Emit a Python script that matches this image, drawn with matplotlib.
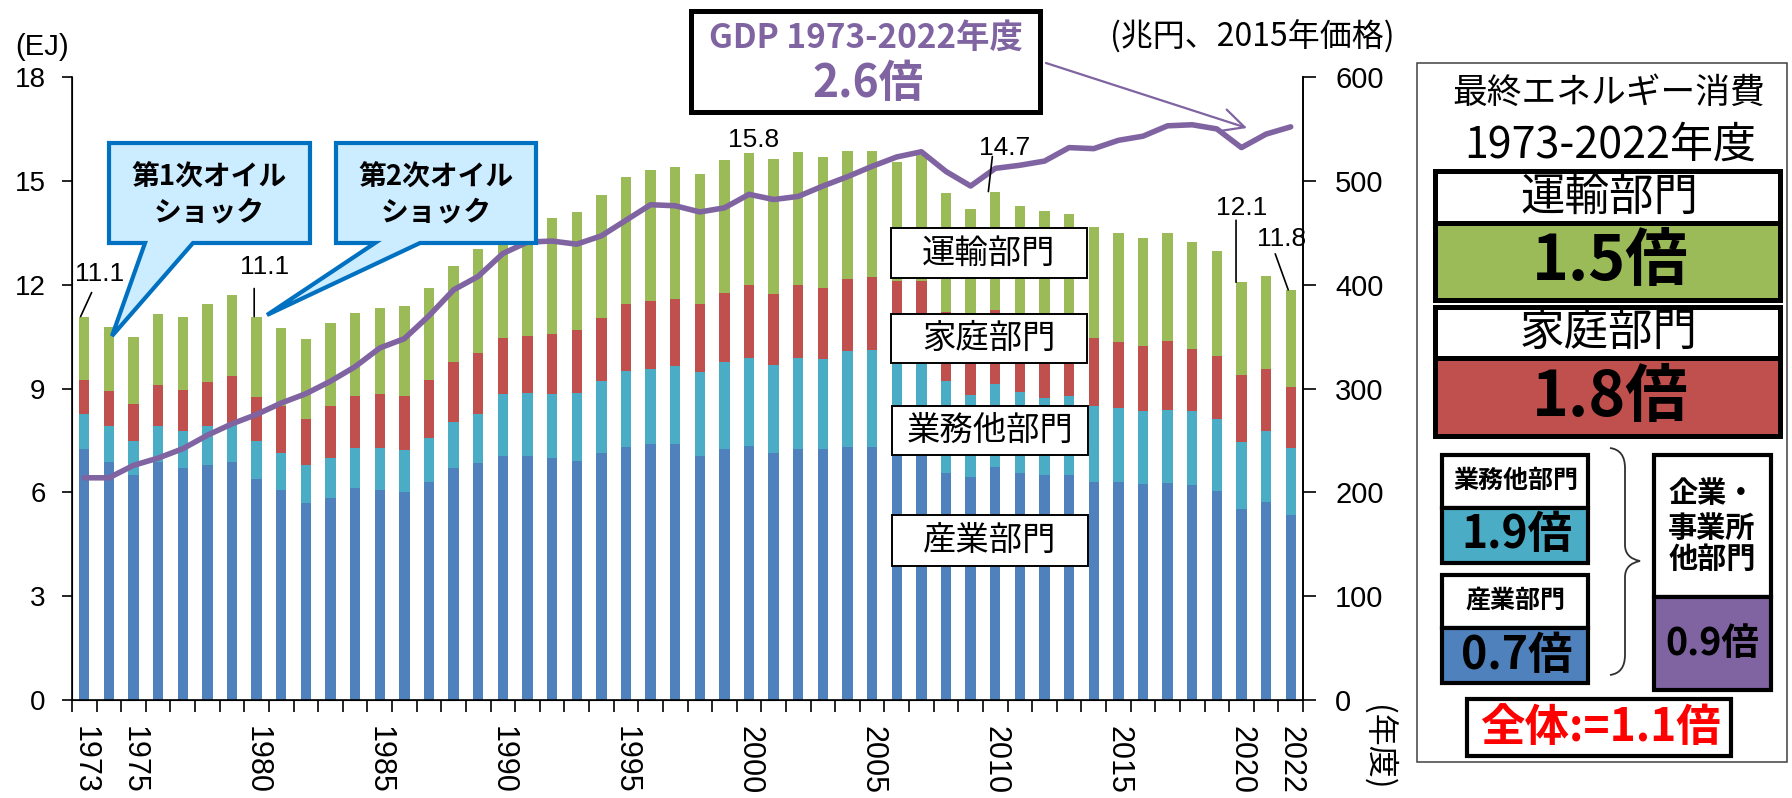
import matplotlib
matplotlib.use('Agg')
import matplotlib.pyplot as plt
import numpy as np
from matplotlib.patches import Rectangle, Polygon, PathPatch
from matplotlib.path import Path

# ---------------- data ----------------
years = list(range(1973, 2023))
industry = [7.25, 6.89, 6.49, 6.89, 6.70, 6.79, 6.89, 6.39, 6.07, 5.68,
            5.83, 6.13, 6.08, 6.02, 6.29, 6.70, 6.86, 7.06, 7.06, 7.00,
            6.91, 7.15, 7.30, 7.40, 7.40, 7.05, 7.26, 7.35, 7.15, 7.26,
            7.26, 7.30, 7.30, 7.25, 7.15, 6.55, 6.45, 6.74, 6.55, 6.50,
            6.50, 6.29, 6.30, 6.25, 6.26, 6.21, 6.05, 5.51, 5.71, 5.35]
commercial = [1.02, 1.03, 0.98, 1.03, 1.06, 1.13, 1.11, 1.10, 1.07, 1.10,
              1.16, 1.14, 1.21, 1.20, 1.27, 1.34, 1.40, 1.77, 1.82, 1.84,
              1.97, 2.06, 2.20, 2.15, 2.24, 2.42, 2.50, 2.54, 2.53, 2.61,
              2.60, 2.77, 2.82, 2.70, 2.70, 2.68, 2.37, 2.39, 2.36, 2.22,
              2.27, 2.21, 2.15, 2.09, 2.13, 2.13, 2.08, 1.95, 2.05, 1.92]
residential = [0.98, 1.01, 1.07, 1.17, 1.19, 1.26, 1.35, 1.25, 1.34, 1.33,
               1.49, 1.51, 1.54, 1.57, 1.68, 1.72, 1.76, 1.62, 1.65, 1.74,
               1.80, 1.82, 1.93, 1.97, 1.95, 1.96, 1.99, 2.09, 2.05, 2.11,
               2.04, 2.08, 2.11, 2.15, 2.25, 1.99, 2.13, 2.14, 2.09, 2.18,
               2.08, 1.97, 1.89, 1.88, 1.98, 1.80, 1.80, 1.93, 1.80, 1.78]
transport = [1.83, 1.84, 1.96, 2.06, 2.13, 2.26, 2.35, 2.34, 2.28, 2.31,
             2.41, 2.40, 2.49, 2.58, 2.65, 2.79, 3.00, 3.05, 3.15, 3.34,
             3.43, 3.57, 3.67, 3.78, 3.81, 3.78, 3.85, 3.83, 3.90, 3.84,
             3.80, 3.72, 3.64, 3.45, 3.65, 3.44, 3.25, 3.42, 3.28, 3.23,
             3.20, 3.19, 3.16, 3.12, 3.11, 3.08, 3.04, 2.68, 2.70, 2.80]
gdp = [214, 214, 226, 233, 242, 255, 266, 275, 286, 295,
       307, 321, 339, 348, 370, 395, 408, 430, 441, 442,
       439, 447, 462, 477, 476, 470, 474, 487, 482, 485,
       495, 504, 514, 523, 528, 509, 495, 512, 515, 519,
       532, 531, 539, 543, 553, 554, 550, 532, 545, 552]

tick_years = [1973, 1975, 1980, 1985, 1990, 1995, 2000, 2005, 2010, 2015, 2020, 2022]
left_ticks = [0, 3, 6, 9, 12, 15, 18]
right_ticks = [0, 100, 200, 300, 400, 500, 600]
value_labels = ['11.1', '11.1', '15.8', '14.7', '12.1', '11.8']
value_label_years = [1973, 1980, 2000, 2010, 2020, 2022]

# ---------------- style ----------------
C_IND = '#4F81BD'
C_COM = '#4BACC6'
C_RES = '#C0504D'
C_TRA = '#9BBB59'
C_GDP = '#8064A2'
C_CALL_FILL = '#CCECFF'
C_CALL_EDGE = '#0070C0'
JP = ['Noto Sans CJK JP', 'DejaVu Sans']
NUM = ['Liberation Sans', 'DejaVu Sans']

plt.rcParams['font.family'] = ['Liberation Sans', 'Noto Sans CJK JP', 'DejaVu Sans']

W, H = 1792, 798
fig = plt.figure(figsize=(W / 100, H / 100), dpi=100)
ax = fig.add_axes([72 / W, 98 / H, 1231 / W, 623 / H])

x = np.arange(len(years))
bw = 0.42
ind = np.array(industry)
com = np.array(commercial)
res = np.array(residential)
tra = np.array(transport)
ax.bar(x, ind, bw, color=C_IND, zorder=2)
ax.bar(x, com, bw, bottom=ind, color=C_COM, zorder=2)
ax.bar(x, res, bw, bottom=ind + com, color=C_RES, zorder=2)
ax.bar(x, tra, bw, bottom=ind + com + res, color=C_TRA, zorder=2)
total = ind + com + res + tra

ax.set_xlim(-0.5, len(years) - 0.5)
ax.set_ylim(0, 18)
ax.set_yticks(left_ticks)
ax.set_yticklabels([str(t) for t in left_ticks], fontsize=20, family=NUM)
ax.tick_params(axis='y', length=7, width=1.2, pad=12, direction='out')
ax.set_xticks([years.index(y) for y in tick_years])
ax.set_xticklabels([str(y) for y in tick_years], rotation=-90, fontsize=22, family=NUM)
ax.tick_params(axis='x', which='major', length=0, pad=19)
ax.set_xticks(np.arange(-0.5, len(years), 1), minor=True)
ax.tick_params(axis='x', which='minor', length=8.6, width=1.2, direction='out')
ax.spines['top'].set_visible(False)
for s in ['left', 'bottom', 'right']:
    ax.spines[s].set_linewidth(1.2)

ax2 = ax.twinx()
ax2.plot(x, gdp, color=C_GDP, lw=4.0, solid_joinstyle='round', solid_capstyle='round', zorder=3)
ax2.set_ylim(0, 600)
ax2.set_yticks(right_ticks)
ax2.set_yticklabels([str(t) for t in right_ticks], fontsize=21, family=NUM)
ax2.tick_params(axis='y', length=9.4, width=1.2, pad=13.7, direction='out')
ax2.spines['top'].set_visible(False)
ax2.spines['right'].set_linewidth(1.2)
ax2.set_xlim(-0.5, len(years) - 0.5)

# value labels (offsets in pixels: text offset, leader xy shift, leader end)
label_cfg = {
    1973: dict(txt=(15, 43), sx=-0.15, line=(11, 24)),
    1980: dict(txt=(8, 50), sx=-0.1, line=(0, 28)),
    2000: dict(txt=(5, 13), sx=0, line=None),
    2010: dict(txt=(9, 44), sx=-0.28, line=(4, 35)),
    2020: dict(txt=(0, 74), sx=-0.22, line=(0, 62)),
    2022: dict(txt=(-9, 51), sx=-0.1, line=(-13, 36)),
}
for lab, yr in zip(value_labels, value_label_years):
    i = years.index(yr)
    cfg = label_cfg[yr]
    ax2.annotate(lab, xy=(i, total[i] * 100 / 3), xytext=cfg['txt'], textcoords='offset pixels',
                 ha='center', va='center', fontsize=19, family=NUM, zorder=6)
    if cfg['line'] is not None:
        ax2.annotate('', xy=(i + cfg['sx'], total[i] * 100 / 3), xytext=cfg['line'],
                     textcoords='offset pixels',
                     arrowprops=dict(arrowstyle='-', lw=1.2, color='black', shrinkA=0, shrinkB=0),
                     zorder=6)

# ---------------- overlay (pixel coords) ----------------
ov = fig.add_axes([0, 0, 1, 1], zorder=10)
ov.set_xlim(0, W)
ov.set_ylim(H, 0)
ov.axis('off')
ov.patch.set_alpha(0)

ov.text(42, 47, '(EJ)', ha='center', va='center', fontsize=21, family=NUM)
ov.text(1252, 37, '(兆円、2015年価格)', ha='center', va='center', fontsize=23, family=JP)
ov.text(1378, 748, '(年度)', ha='center', va='center', rotation=-90, fontsize=23, family=JP)

# GDP box
ov.add_patch(Rectangle((691, 11), 349, 101, facecolor='white', edgecolor='black', lw=3.6))
ov.text(866, 38, 'GDP 1973-2022年度', ha='center', va='center', fontsize=24,
        fontweight='bold', color=C_GDP, family=JP)
ov.text(868, 84, '2.6倍', ha='center', va='center', fontsize=32,
        fontweight='bold', color=C_GDP, family=JP)
ov.annotate('', xy=(1247, 128), xytext=(1046, 63),
            arrowprops=dict(arrowstyle='->,head_length=0.9,head_width=0.45', color=C_GDP,
                            lw=1.6, mutation_scale=18, shrinkA=0, shrinkB=0))

# callouts
def callout(x0, y0, x1, y1, b0, b1, tip, lines):
    pts = [(x0, y0), (x1, y0), (x1, y1), (b1, y1), tip, (b0, y1), (x0, y1)]
    ov.add_patch(Polygon(pts, closed=True, facecolor=C_CALL_FILL, edgecolor=C_CALL_EDGE,
                         lw=3.0, joinstyle='miter'))
    cx = (x0 + x1) / 2
    ov.text(cx, 178, lines[0], ha='center', va='center', fontsize=20, fontweight='bold', family=JP)
    ov.text(cx, 212, lines[1], ha='center', va='center', fontsize=20, fontweight='bold', family=JP)

callout(109, 143, 310, 243, 145, 193, (112, 336), ['第1次オイル', 'ショック'])
callout(336, 143, 536, 243, 375, 420, (267, 315), ['第2次オイル', 'ショック'])

# sector label boxes in plot
for (bx, by, bh, txt) in [(891, 228, 50, '運輸部門'), (891, 314, 49, '家庭部門'),
                          (892, 406, 49, '業務他部門'), (892, 515, 51, '産業部門')]:
    ov.add_patch(Rectangle((bx, by), 196, bh, facecolor='white', edgecolor='black', lw=1.4))
    ov.text(bx + 98, by + bh / 2, txt, ha='center', va='center', fontsize=24, family=JP)

# right panel
ov.add_patch(Rectangle((1417, 63), 370, 699, facecolor='white', edgecolor='#404040', lw=1.1, zorder=0))
ov.text(1609, 93, '最終エネルギー消費', ha='center', va='center', fontsize=25, family=JP)
ov.text(1610, 146, '1973-2022年度', ha='center', va='center', fontsize=31, family=JP)

def two_box(x0, x1, yt, ys, yb, color, lw=3.6):
    ov.add_patch(Rectangle((x0, yt), x1 - x0, ys - yt, facecolor='white', edgecolor='black', lw=lw))
    ov.add_patch(Rectangle((x0, ys), x1 - x0, yb - ys, facecolor=color, edgecolor='black', lw=lw))

two_box(1434.5, 1779.5, 170.5, 222.5, 299.5, C_TRA)
ov.text(1609, 197, '運輸部門', ha='center', va='center', fontsize=32, family=JP)
ov.text(1610, 261, '1.5倍', ha='center', va='center', fontsize=45, fontweight='bold', family=JP)

two_box(1434.5, 1779.5, 307, 358, 435.5, C_RES)
ov.text(1609, 332, '家庭部門', ha='center', va='center', fontsize=32, family=JP)
ov.text(1610, 397, '1.8倍', ha='center', va='center', fontsize=45, fontweight='bold', family=JP)

two_box(1442, 1588, 455, 507.5, 563, C_COM, lw=3.0)
ov.text(1516, 481, '業務他部門', ha='center', va='center', fontsize=18, fontweight='bold', family=JP)
ov.text(1517, 535, '1.9倍', ha='center', va='center', fontsize=32, fontweight='bold', family=JP)

two_box(1442, 1588, 575, 628, 683, C_IND, lw=3.0)
ov.text(1516, 601, '産業部門', ha='center', va='center', fontsize=18, fontweight='bold', family=JP)
ov.text(1517, 656, '0.7倍', ha='center', va='center', fontsize=32, fontweight='bold', family=JP)

two_box(1654, 1771, 455, 596.5, 689.5, C_GDP, lw=3.0)
for yy, t in [(493, '企業・'), (528, '事業所'), (559, '他部門')]:
    ov.text(1712, yy, t, ha='center', va='center', fontsize=21, fontweight='bold', family=JP)
ov.text(1712, 643, '0.9倍', ha='center', va='center', fontsize=27, fontweight='bold', family=JP)

# brace
verts = [(1610, 448), (1625, 450), (1625, 468),
         (1625, 545),
         (1625, 558), (1640, 561),
         (1625, 564), (1625, 577),
         (1625, 655),
         (1625, 673), (1610, 675)]
codes = [Path.MOVETO, Path.CURVE3, Path.CURVE3,
         Path.LINETO,
         Path.CURVE3, Path.CURVE3,
         Path.CURVE3, Path.CURVE3,
         Path.LINETO,
         Path.CURVE3, Path.CURVE3]
ov.add_patch(PathPatch(Path(verts, codes), facecolor='none', edgecolor='#303030', lw=1.3))

ov.add_patch(Rectangle((1467, 699), 264, 57, facecolor='white', edgecolor='black', lw=3.0))
ov.text(1600, 728, '全体:=1.1倍', ha='center', va='center', fontsize=32, fontweight='bold',
        color='#FF0000', family=JP)

fig.savefig('out.png', dpi=100)
